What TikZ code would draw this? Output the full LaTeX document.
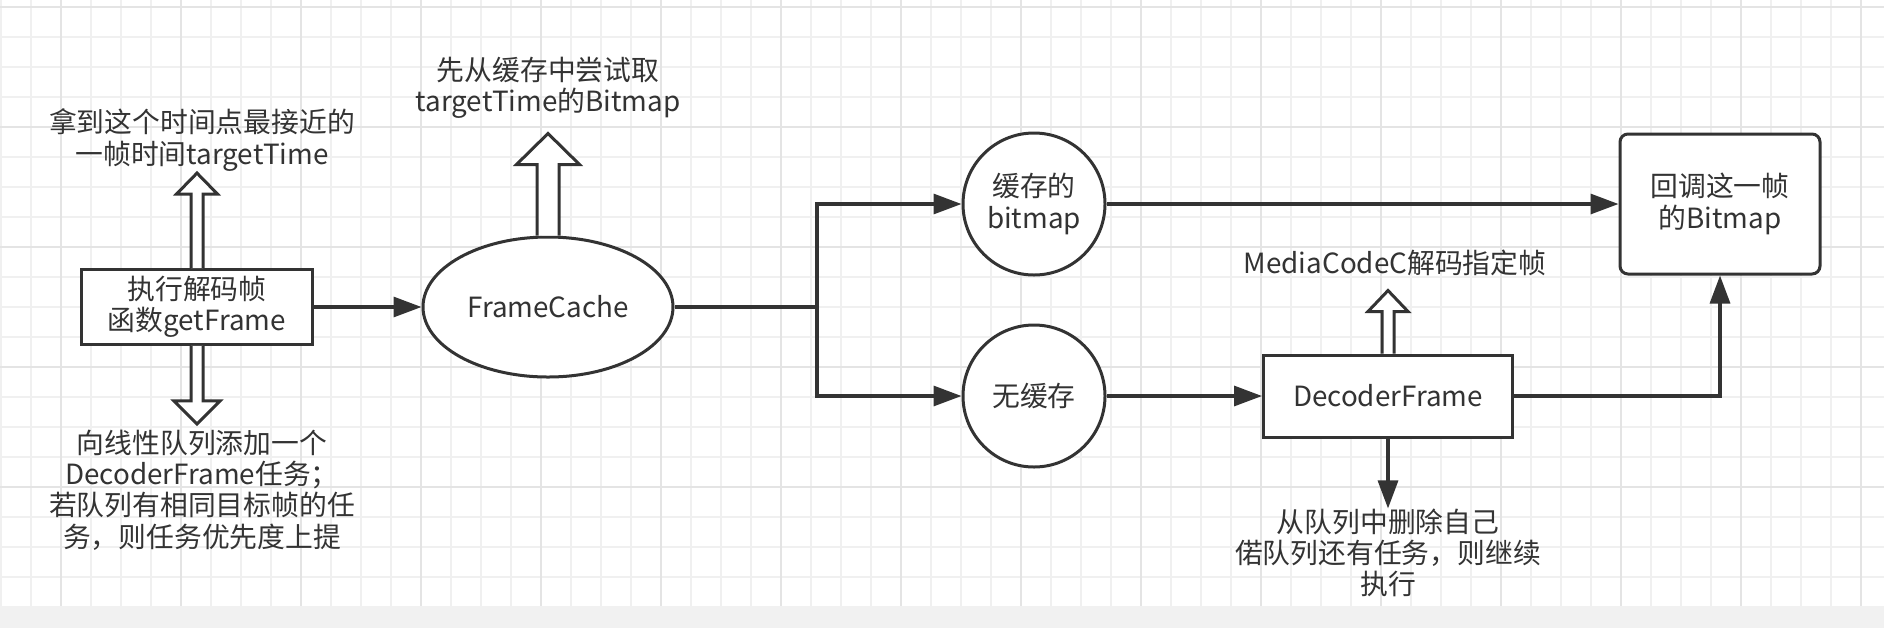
\documentclass[tikz,border=0pt]{standalone}
\usepackage{fontspec}
\setmainfont{Noto Sans CJK SC}
\usepackage{tikz}
\usetikzlibrary{arrows.meta,shapes.geometric}

\definecolor{ink}{HTML}{333333}
\definecolor{gridminor}{HTML}{F0F0F0}
\definecolor{gridmajor}{HTML}{E4E4E4}
\definecolor{band}{HTML}{F1F1F1}

\begin{document}
\begin{tikzpicture}[x=0.5pt,y=-0.5pt,
			every node/.style={font=\fontsize{13.9pt}{15.6pt}\selectfont,text=ink},
			box node/.style={rectangle,draw=ink,line width=1.5pt,fill=white,align=center},
			round node/.style={circle,draw=ink,line width=1.5pt,fill=white,minimum size=71pt,inner sep=0pt,align=center},
			text node/.style={align=center,inner sep=0pt},
			main edge/.style={draw=ink,line width=1.6pt,-{Triangle[length=14pt,width=10pt]}},
			fat arrow/.style={draw=ink,line width=1.5pt,fill=white,line join=miter},
			minor line/.style={gridminor,line width=0.6pt},
			major line/.style={gridmajor,line width=1pt}
			]
			
			% block arrow: start, angle, length, shaft, head width, head length
			\def\fatarrow#1#2#3#4#5#6{
				\draw[fat arrow,shift={(#1)},rotate=#2] (0,-#4) -- (#3-#6,-#4) -- (#3-#6,-#5) -- (#3,0) -- (#3-#6,#5) -- (#3-#6,#4) -- (0,#4);
			}
			
			\useasboundingbox (0,0) rectangle (1884,628);
			\fill[white] (0,0) rectangle (1884,606);
			\fill[band] (0,606) rectangle (1884,628);
			\foreach \x in {1,31,...,1861} {
				\draw[minor line] (\x,0) -- (\x,606);
			}
			\foreach \y in {7,37,...,577} {
				\draw[minor line] (0,\y) -- (1884,\y);
			}
			\foreach \x in {61,181,...,1861} {
				\draw[major line] (\x,0) -- (\x,606);
			}
			\foreach \y in {7,127,...,487} {
				\draw[major line] (0,\y) -- (1884,\y);
			}
			
			\node[box node,minimum width=115.5pt,minimum height=34pt] (getframe) at (197,307) {执行解码帧\\函数getFrame};
			\node[ellipse,draw=ink,line width=1.5pt,fill=white,minimum width=125pt,minimum height=70pt] (cache) at (548,307) {FrameCache};
			\node[round node] (hit) at (1034,204) {缓存的\\bitmap};
			\node[round node] (miss) at (1034,396) {无缓存};
			\node[box node,minimum width=124.5pt,minimum height=41pt] (decoder) at (1388,396) {DecoderFrame};
			\node[box node,rounded corners=4pt,minimum width=100pt,minimum height=70pt] (callback) at (1720,204) {回调这一帧\\的Bitmap};
			
			\node[text node] (nearest) at (202,140) {拿到这个时间点最接近的\\一帧时间targetTime};
			\node[text node] (enqueue) at (202,490) {向线性队列添加一个\\DecoderFrame任务；\\若队列有相同目标帧的任\\务，则任务优先度上提};
			\node[text node] (trycache) at (548,88) {先从缓存中尝试取\\targetTime的Bitmap};
			\node[text node] (mediacodec) at (1395,263) {MediaCodeC解码指定帧};
			\node[text node] (remove) at (1388,553) {从队列中删除自己\\偌队列还有任务，则继续\\执行};
			
			\coordinate (split) at (817,307);
			
			\draw[main edge] (getframe) -- (cache);
			\draw[ink,line width=2.3pt] (cache) -- (split);
			\draw[main edge] (split) |- (hit);
			\draw[main edge] (split) |- (miss);
			\draw[main edge] (hit) -- (callback);
			\draw[main edge] (miss) -- (decoder);
			\draw[main edge] (decoder) -| (callback);
			\draw[main edge] (decoder) -- (remove);
			
			\fatarrow{getframe.north}{90}{95}{6}{20.5}{21}
			\fatarrow{getframe.south}{-90}{78}{6}{23}{23}
			\fatarrow{cache.north}{90}{102}{11}{31.5}{31}
			\fatarrow{decoder.north}{90}{63}{6}{20}{21}
			
		\end{tikzpicture}
\end{document}
